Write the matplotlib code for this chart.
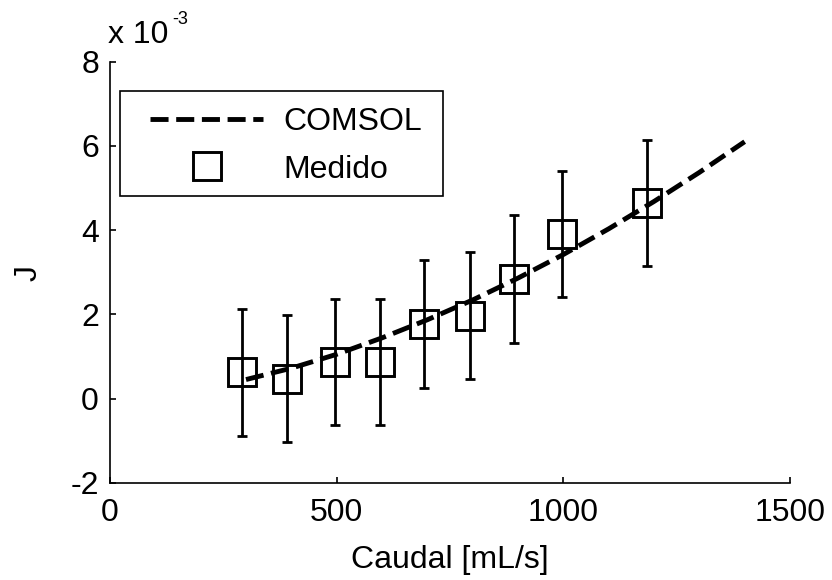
import matplotlib
matplotlib.use("Agg")
import matplotlib.pyplot as plt
from matplotlib.patches import Rectangle

plt.rcParams['font.family'] = ['Liberation Sans', 'DejaVu Sans']
plt.rcParams['axes.unicode_minus'] = False
plt.rcParams['lines.scale_dashes'] = False

# Measured data (J in units of 1e-3)
caudal_medido = [291, 390, 497, 596, 692, 795, 891, 997, 1184]
j_medido = [0.62, 0.47, 0.87, 0.87, 1.77, 1.97, 2.84, 3.91, 4.65]
j_err = [1.51, 1.51, 1.50, 1.50, 1.53, 1.51, 1.51, 1.50, 1.50]

# COMSOL curve (J in units of 1e-3)
caudal_comsol = [300, 400, 500, 600, 700, 800, 900, 1000, 1100, 1200, 1300, 1400]
j_comsol = [0.45, 0.72, 1.05, 1.44, 1.87, 2.34, 2.86, 3.42, 4.03, 4.68, 5.37, 6.10]

x_ticks = [0, 500, 1000, 1500]
y_ticks = [-2, 0, 2, 4, 6, 8]

W, H = 832, 580
fig = plt.figure(figsize=(W / 100, H / 100), dpi=100)
ax_l, ax_r, ax_t, ax_b = 110, 790, 61.7, 482.7
ax = fig.add_axes([ax_l / W, 1 - ax_b / H, (ax_r - ax_l) / W, (ax_b - ax_t) / H])

fs = 23

line_comsol, = ax.plot(caudal_comsol, j_comsol, color='black', lw=3.5,
                       dashes=(13, 5.5), label='COMSOL', zorder=3)
ax.errorbar(caudal_medido, j_medido, yerr=j_err, fmt='none', ecolor='black',
            elinewidth=2.0, capsize=3.3, capthick=2.0, zorder=2)
marks, = ax.plot(caudal_medido, j_medido, ls='none', marker='s', ms=19.5,
                 mew=2.1, mec='black', mfc='none', label='Medido', zorder=4)

ax.set_xlim(0, 1500)
ax.set_ylim(-2, 8)
ax.set_xticks(x_ticks)
ax.set_yticks(y_ticks)
ax.spines['top'].set_visible(False)
ax.spines['right'].set_visible(False)
for s in ('left', 'bottom'):
    ax.spines[s].set_linewidth(1.2)
ax.tick_params(direction='in', length=4.5, width=1.2, labelsize=fs, pad=8)
ax.tick_params(axis='x', pad=11)

ax.set_xlabel('Caudal [mL/s]', fontsize=fs, labelpad=12)
fig.text(29 / W, 1 - 273 / H, 'J', rotation=90, ha='center', va='center', fontsize=fs)

# exponent text
fig.text(108 / W, 1 - 42.7 / H, 'x 10', ha='left', va='baseline', fontsize=fs)
fig.text(172 / W, 1 - 23.5 / H, '-3', ha='left', va='baseline', fontsize=13)

# legend
box = Rectangle((120 / W, 1 - 195.7 / H), (443 - 120) / W, (195.7 - 90.7) / H,
                transform=fig.transFigure, fill=True, facecolor='white',
                edgecolor='black', lw=1.2, zorder=5)
fig.patches.append(box)
leg = fig.legend(handles=[line_comsol, marks], loc='upper left',
                 bbox_to_anchor=(150 / W, 1 - 107 / H), bbox_transform=fig.transFigure,
                 frameon=False, fontsize=fs, borderpad=0, borderaxespad=0,
                 handlelength=3.54, handletextpad=0.63, labelspacing=0.55,
                 numpoints=1)
leg.set_zorder(6)

fig.savefig('out.png', dpi=100)
